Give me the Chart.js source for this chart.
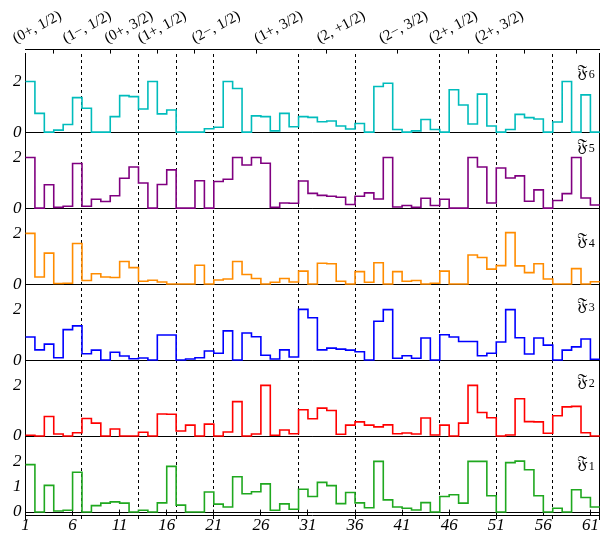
<!DOCTYPE html>
<html>
<head>
<meta charset="utf-8">
<script src="https://cdn.jsdelivr.net/npm/chart.js@4.4.0/dist/chart.umd.min.js"></script>
<style>
  html, body { margin: 0; padding: 0; background: #fff; overflow: hidden; }
</style>
</head>
<body>
<canvas id="fChart" width="605" height="535"></canvas>
<script>
// values per bin, bin i covers [i, i+1]
const f1 = [1.87, 0, 1.05, 0.04, 0.07, 1.57, 0, 0.25, 0.35, 0.4, 0.35, 0, 0.07, 0, 0.36, 1.8, 0.27, 0, 0, 0.79,
  0.31, 0.2, 1.39, 0.72, 0.8, 1.11, 0.07, 0.32, 0.11, 0.9, 0.61, 1.17, 1.04, 0.33, 0.77, 0.36, 0.17, 2.0, 0.48, 0.2,
  0.15, 0.08, 0.37, 0, 0.61, 0.68, 0.35, 2.0, 2.0, 0.64, 0, 1.95, 2.01, 1.67, 0.64, 0, 0.15, 0, 0.88, 0.57, 0.2];
const f2 = [0.03, 0, 0.77, 0.08, 0, 0.13, 0.69, 0.51, 0, 0.28, 0, 0, 0.15, 0, 0.87, 0.86, 0.2, 0.43, 0, 0.47,
  0, 0.16, 1.36, 0, 0.08, 2.0, 0.03, 0.24, 0.09, 1.04, 0.68, 1.1, 1.01, 0.07, 0.43, 0.56, 0.43, 0.36, 0.44, 0.09,
  0.12, 0.08, 0.71, 0.04, 0.43, 0, 0.51, 2.0, 0.93, 0.72, 0, 0.04, 1.47, 0.57, 0.56, 0.11, 0.8, 1.15, 1.17, 0.13, 0];
const f3 = [0.91, 0.4, 0.63, 0.09, 1.2, 1.35, 0.25, 0.39, 0, 0.31, 0.16, 0.05, 0.08, 0, 0.99, 0.99, 0, 0.04, 0.09, 0.36,
  0.27, 1.15, 0, 1.07, 0.92, 0.19, 0.04, 0.4, 0.12, 2.0, 1.67, 0.4, 0.47, 0.43, 0.39, 0.33, 0, 1.53, 1.99, 0.07,
  0.17, 0.07, 0.87, 0, 1.0, 0.91, 0.73, 0.73, 0.17, 0.27, 0.71, 1.99, 0.88, 0.24, 0.87, 0.59, 0, 0.39, 0.52, 0.83, 0.03];
const f4 = [2.0, 0.28, 1.22, 0.02, 0.03, 1.6, 0.14, 0.41, 0.28, 0.26, 0.89, 0.65, 0.11, 0.15, 0.08, 0, 0, 0, 0.74, 0,
  0.16, 0.2, 0.89, 0.38, 0.22, 0, 0.07, 0.22, 0.08, 0.51, 0, 0.82, 0.8, 0.11, 0, 0.49, 0.07, 0.84, 0, 0.49,
  0.11, 0.14, 0, 0.03, 0.51, 0, 0, 1.15, 1.05, 0.59, 0.73, 2.03, 0.72, 0.45, 0.8, 0.2, 0, 0, 0.61, 0, 0.09];
const f5 = [2.0, 0, 0.92, 0.03, 0.07, 1.76, 0.07, 0.35, 0.26, 0.49, 1.18, 1.62, 0.99, 0, 0.93, 1.51, 0, 0, 1.08, 0,
  1.05, 1.14, 2.0, 1.7, 2.0, 1.77, 0.03, 0.2, 0.19, 1.07, 0.58, 0.5, 0.47, 0.43, 0.14, 0.47, 0.6, 0.36, 2.0, 0.04,
  0.1, 0.03, 0.39, 0.1, 0.35, 0, 0, 2.0, 1.62, 0.2, 1.58, 1.19, 1.27, 0.27, 0.72, 0, 0.3, 0.57, 2.0, 0.4, 0.12];
const f6 = [2.0, 0.74, 0, 0.08, 0.3, 1.36, 0.94, 0, 0, 0.61, 1.44, 1.4, 0.91, 2.0, 0.72, 0.87, 0, 0, 0, 0.13,
  0.19, 2.0, 1.72, 0, 0.64, 0.61, 0.05, 0.74, 0.21, 0.61, 0.58, 0.41, 0.44, 0.24, 0.12, 0.34, 0, 1.8, 1.93, 0.1,
  0, 0.05, 0.5, 0.1, 0, 1.67, 1.07, 0.32, 1.5, 0.24, 0, 0.1, 0.7, 0.57, 0.52, 0, 0.4, 2.0, 0, 1.47, 0];

const xTicks = [1, 6, 11, 16, 21, 26, 31, 36, 41, 46, 51, 56, 61];
const yTicks = [0, 1, 2];
const boundaries = [7, 13, 17, 21, 30, 36, 45, 51, 57];
const groupCenters = [4, 10, 15, 19, 25.5, 33, 40.5, 48, 54, 59.5];
const groupLabels = ['(0+, 1/2)', '(1\u2212, 1/2)', '(0+, 3/2)', '(1+, 1/2)', '(2\u2212, 1/2)',
  '(1+, 3/2)', '(2, +1/2)', '(2\u2212, 3/2)', '(2+, 1/2)', '(2+, 3/2)'];

const panels = [
  { id: 'y1', sub: '1', values: f1, color: '#1fa81f', min: -0.3, max: 3, labelY: 1.9 },
  { id: 'y2', sub: '2', values: f2, color: '#ff0000', min: 0, max: 3, labelY: 2.16 },
  { id: 'y3', sub: '3', values: f3, color: '#0000ff', min: 0, max: 3, labelY: 2.16 },
  { id: 'y4', sub: '4', values: f4, color: '#ff8c00', min: 0, max: 3, labelY: 1.7 },
  { id: 'y5', sub: '5', values: f5, color: '#800080', min: 0, max: 3, labelY: 2.44 },
  { id: 'y6', sub: '6', values: f6, color: '#00bcbc', min: 0, max: 3.1, labelY: 2.36 }
];

const tickFont = { family: '"Liberation Serif", "DejaVu Serif", serif', size: 17, style: 'italic' };

function stepData(values) {
  const pts = values.map((v, i) => ({ x: i + 1, y: v }));
  pts.push({ x: values.length + 1, y: values[values.length - 1] });
  return pts;
}

const scales = {
  x: {
    type: 'linear', position: 'bottom', min: 1, max: 62,
    afterBuildTicks: a => { a.ticks = xTicks.map(v => ({ value: v })); },
    ticks: { font: tickFont, color: '#000', padding: 6, maxRotation: 0, autoSkip: false },
    grid: { color: 'transparent', tickColor: '#000', tickLength: -6 },
    border: { color: '#000' }
  },
  xLines: {
    type: 'linear', position: 'top', min: 1, max: 62,
    afterBuildTicks: a => { a.ticks = boundaries.concat(groupCenters).map(v => ({ value: v })); },
    ticks: { display: false },
    grid: {
      color: c => boundaries.includes(c.tick && c.tick.value) ? '#000' : 'transparent',
      tickColor: c => boundaries.includes(c.tick && c.tick.value) ? 'transparent' : '#000',
      tickLength: -4, lineWidth: 1
    },
    border: { color: '#000', dash: [3, 3] }
  },
  xLabels: {
    type: 'linear', position: 'top', min: 1, max: 70,
    afterBuildTicks: a => { a.ticks = groupCenters.map(v => ({ value: v })); },
    ticks: {
      callback: v => groupLabels[groupCenters.indexOf(v)],
      minRotation: 28, maxRotation: 28, autoSkip: false, labelOffset: -28, padding: 6,
      font: { family: '"Liberation Serif", "DejaVu Serif", serif', size: 15 }, color: '#000'
    },
    grid: { display: false, drawTicks: false },
    border: { display: false }
  },
  yR: {
    type: 'linear', position: 'right', min: 0, max: 1,
    ticks: { display: false },
    grid: { display: false, drawTicks: false },
    border: { color: '#000' }
  }
};

panels.forEach(p => {
  scales[p.id] = {
    type: 'linear', position: 'left', stack: 'panels', stackWeight: p.max - p.min,
    min: p.min, max: p.max,
    afterBuildTicks: a => { a.ticks = yTicks.map(v => ({ value: v })); },
    ticks: { font: tickFont, color: '#000', padding: 4 },
    grid: { color: c => (c.tick && c.tick.value === 0) ? '#000' : 'transparent', drawTicks: false, lineWidth: 1 },
    border: { color: '#000' }
  };
});

// fraktur name in the upper right of each panel
const panelNames = {
  id: 'panelNames',
  afterDatasetsDraw(chart) {
    const c = chart.ctx;
    const x = chart.scales.x.right - 5;
    panels.forEach(p => {
      const y = chart.scales[p.id].getPixelForValue(p.labelY);
      c.save();
      c.fillStyle = '#000';
      c.textBaseline = 'middle';
      c.textAlign = 'right';
      c.font = '12px "Liberation Serif", serif';
      c.fillText(p.sub, x, y + 3);
      const w = c.measureText(p.sub).width;
      c.font = '17px "DejaVu Serif", "DejaVu Sans", "Noto Sans", serif';
      c.fillText('\u{1D509}', x - w - 1, y);
      c.restore();
    });
  }
};

const ctx = document.getElementById('fChart').getContext('2d');

const fChart = new Chart(ctx, {
  type: 'line',
  data: {
    datasets: panels.map(p => ({
      label: 'F' + p.sub,
      data: stepData(p.values),
      yAxisID: p.id,
      xAxisID: 'x',
      borderColor: p.color,
      borderWidth: 1.6,
      stepped: true,
      pointRadius: 0,
      fill: false,
      clip: 3
    }))
  },
  options: {
    responsive: false,
    animation: false,
    layout: { padding: { left: 9, right: 3, top: 1, bottom: -11 } },
    scales: scales,
    plugins: {
      legend: { display: false },
      tooltip: { enabled: false }
    }
  },
  plugins: [panelNames]
});
</script>
</body>
</html>
